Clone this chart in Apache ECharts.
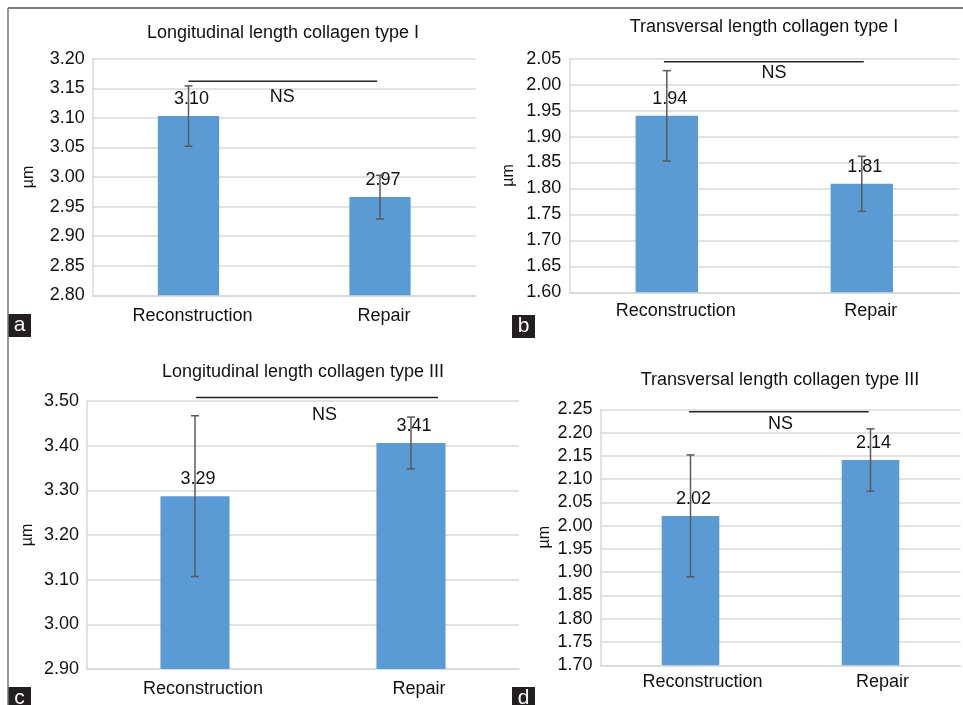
<!DOCTYPE html>
<html>
<head>
<meta charset="utf-8">
<script src="https://cdn.jsdelivr.net/npm/echarts@6/dist/echarts.min.js"></script>
<style>html,body{margin:0;padding:0;background:#fff}#c{width:963px;height:705px}</style>
</head>
<body>
<div id="c"></div>
<script>
// ---- data ----
const categories = ['Reconstruction', 'Repair'];
const titles = ['Longitudinal length collagen type I', 'Transversal length collagen type I',
                'Longitudinal length collagen type III', 'Transversal length collagen type III'];
const panelLetters = ['a', 'b', 'c', 'd'];
const axisName = 'µm';
const nsText = 'NS';

const meansA = [3.103, 2.966];
const errA   = [0.051, 0.037];
const meansB = [1.940, 1.809];
const errB   = [0.087, 0.053];
const meansC = [3.287, 3.406];
const errC   = [0.180, 0.058];
const meansD = [2.021, 2.141];
const errD   = [0.131, 0.067];

// y-axis ranges [min, max, interval]
const yRangeA = [2.80, 3.20, 0.05];
const yRangeB = [1.60, 2.05, 0.05];
const yRangeC = [2.90, 3.50, 0.10];
const yRangeD = [1.70, 2.25, 0.05];

// NS bracket: [y, startCat, endCat, textCat, textY]
const nsA = [3.162, 0.0, 0.985, 0.49, 3.135];
const nsB = [2.044, -0.015, 1.01, 0.55, 2.0225];
const nsC = [3.508, 0.005, 1.125, 0.60, 3.469];
const nsD = [2.245, -0.008, 0.99, 0.50, 2.218];

// ---- layout ----
const layout = [
  {grid:{left:92.75, top:58.7, width:383, height:236.6}, nameGap:56, title:[283,24], box:[8,314], xMargin:12, xPad:8},
  {grid:{left:569.3, top:58.7, width:390, height:233.6}, nameGap:53, title:[764,18], box:[512,315], xMargin:10, xPad:18},
  {grid:{left:87, top:401, width:432, height:268}, nameGap:51, title:[303,363], box:[8,687], xMargin:11, xPad:16},
  {grid:{left:600.5, top:409.3, width:360, height:256}, nameGap:48, title:[780,371], box:[512,687], xMargin:8, xPad:24}
];
const means = [meansA, meansB, meansC, meansD];
const errs = [errA, errB, errC, errD];
const yRanges = [yRangeA, yRangeB, yRangeC, yRangeD];
const nss = [nsA, nsB, nsC, nsD];

const FONT = '"Liberation Sans", Arial, sans-serif';
const TXT = '#111';
const GRIDC = '#d9d9d9';

const chart = echarts.init(document.getElementById('c'), null, {renderer:'canvas'});

const grids = [], xAxes = [], yAxes = [], series = [], titleArr = [], graphics = [];

layout.forEach((L, i) => {
  grids.push(Object.assign({containLabel:false, outerBoundsMode:'none'}, L.grid));
  xAxes.push({
    type:'category', gridIndex:i, data:categories,
    axisLine:{show:true, lineStyle:{color:GRIDC, width:1.5}},
    axisTick:{show:false},
    axisLabel:{color:TXT, fontSize:18, fontFamily:FONT, margin:L.xMargin, padding:[0,0,0,L.xPad]}
  });
  const r = yRanges[i];
  yAxes.push({
    type:'value', gridIndex:i, min:r[0], max:r[1], interval:r[2],
    name:axisName, nameLocation:'middle', nameGap:L.nameGap, nameRotate:90,
    nameTextStyle:{color:TXT, fontSize:16, fontFamily:FONT},
    axisLine:{show:true, lineStyle:{color:GRIDC, width:1.5}},
    axisTick:{show:false},
    splitLine:{show:true, lineStyle:{color:GRIDC, width:1.5}},
    axisLabel:{color:TXT, fontSize:18, fontFamily:FONT, margin:8,
               formatter:v => v.toFixed(2)}
  });
  series.push({
    type:'bar', xAxisIndex:i, yAxisIndex:i, data:means[i], barWidth:'32%',
    itemStyle:{color:'#5b9bd5'},
    label:{show:true, position:'top', distance:8, offset:[3,0], color:TXT, fontSize:18, fontFamily:FONT,
           formatter:p => p.value.toFixed(2)},
    z:2
  });
  series.push({
    type:'custom', xAxisIndex:i, yAxisIndex:i, z:5,
    data: means[i].map((m, k) => [k, m - errs[i][k], m + errs[i][k]]),
    encode:{x:0, y:[1,2]},
    renderItem:(params, api) => {
      const lo = api.coord([api.value(0), api.value(1)]);
      const hi = api.coord([api.value(0), api.value(2)]);
      const cw = 4;
      const st = {stroke:'#595959', lineWidth:1.5};
      return {type:'group', children:[
        {type:'line', shape:{x1:lo[0], y1:lo[1], x2:hi[0], y2:hi[1]}, style:st},
        {type:'line', shape:{x1:lo[0]-cw, y1:lo[1], x2:lo[0]+cw, y2:lo[1]}, style:st},
        {type:'line', shape:{x1:hi[0]-cw, y1:hi[1], x2:hi[0]+cw, y2:hi[1]}, style:st}
      ]};
    }
  });
  const ns = nss[i];
  series.push({
    type:'custom', xAxisIndex:i, yAxisIndex:i, z:6, clip:false,
    data:[[0, ns[0], ns[1], ns[2], ns[3], ns[4]]],
    encode:{x:0, y:1},
    renderItem:(params, api) => {
      const p0 = api.coord([0, api.value(1)]);
      const p1 = api.coord([1, api.value(1)]);
      const dx = p1[0] - p0[0];
      const t = api.coord([0, api.value(5)]);
      return {type:'group', children:[
        {type:'line', shape:{x1:p0[0] + api.value(2)*dx, y1:p0[1], x2:p0[0] + api.value(3)*dx, y2:p0[1]},
         style:{stroke:'#222', lineWidth:1.5}},
        {type:'text', x:p0[0] + api.value(4)*dx, y:t[1],
         style:{text:nsText, fill:TXT, font:'18px ' + FONT, align:'center', verticalAlign:'middle'}}
      ]};
    }
  });
  titleArr.push({
    text:titles[i], left:L.title[0], top:L.title[1], textAlign:'center', padding:0,
    textStyle:{color:TXT, fontSize:18, fontWeight:'normal', fontFamily:FONT}
  });
  graphics.push({
    type:'group', left:L.box[0], top:L.box[1],
    children:[
      {type:'rect', shape:{x:0, y:0, width:23, height:23}, style:{fill:'#231f20'}},
      {type:'text', x:11.5, y:11, style:{text:panelLetters[i], fill:'#fff', font:'21px ' + FONT, align:'center', verticalAlign:'middle'}}
    ]
  });
});

// outer frame lines (top and left)
graphics.push({type:'line', shape:{x1:8, y1:8, x2:963, y2:8}, style:{stroke:'#555', lineWidth:1.5}});
graphics.push({type:'line', shape:{x1:8, y1:8, x2:8, y2:705}, style:{stroke:'#777', lineWidth:1.5}});

chart.setOption({
  animation:false,
  backgroundColor:'#fff',
  title:titleArr,
  grid:grids,
  xAxis:xAxes,
  yAxis:yAxes,
  series:series,
  graphic:graphics
});
</script>
</body>
</html>
